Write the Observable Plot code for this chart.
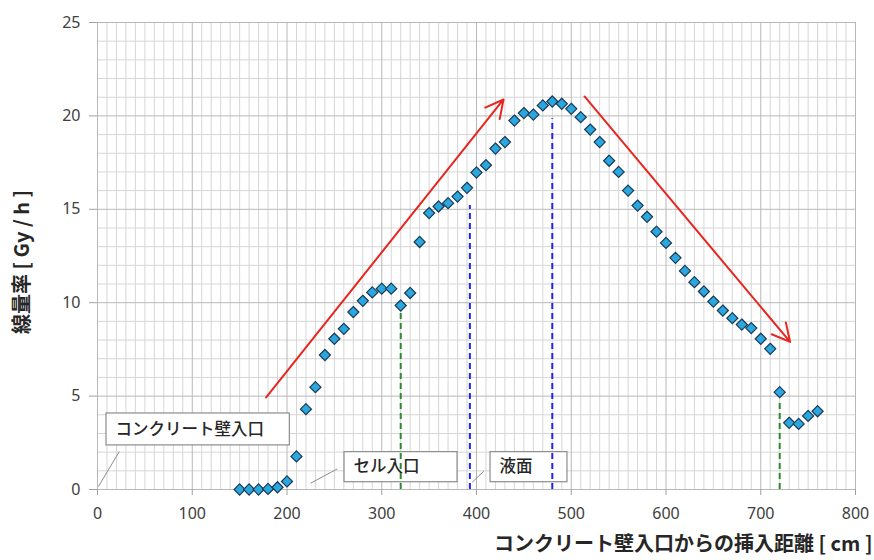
<!DOCTYPE html>
<html><head><meta charset="utf-8">
<script src="https://cdn.jsdelivr.net/npm/d3@7"></script>
<script src="https://cdn.jsdelivr.net/npm/@observablehq/plot@0.6"></script>
<style>body{margin:0;background:#fff}</style>
</head><body><div id="chart"></div>
<script>
// ---- data ----
const distance = [150,160,170,180,190,200,210,220,230,240,250,260,270,280,290,300,310,320,330,340,350,360,370,380,390,400,410,420,430,440,450,460,470,480,490,500,510,520,530,540,550,560,570,580,590,600,610,620,630,640,650,660,670,680,690,700,710,720,730,740,750,760];
const doseRate = [0,0,0,0.03,0.12,0.43,1.77,4.3,5.48,7.2,8.07,8.6,9.5,10.1,10.55,10.75,10.75,9.85,10.52,13.25,14.8,15.15,15.33,15.68,16.15,16.97,17.36,18.25,18.6,19.75,20.15,20.07,20.56,20.77,20.65,20.38,19.93,19.27,18.6,17.6,17.0,16.0,15.2,14.6,13.8,13.2,12.4,11.7,11.1,10.6,10.06,9.58,9.17,8.83,8.64,8.07,7.53,5.21,3.57,3.51,3.94,4.19];
const xTicks = [0,100,200,300,400,500,600,700,800];
const yTicks = [0,5,10,15,20,25];
const xTitle = "コンクリート壁入口からの挿入距離 [ cm ]";
const yTitle = "線量率 [ Gy / h ]";

// annotations (data units)
const markerX = [320, 393, 480, 720];
const markerTop = [9.5, 15.2, 19.85, 4.7];
const markerKind = ["green", "blue", "blue", "green"];
const arrowFrom = [[178, 4.93], [514, 21.04]];
const arrowTo = [[428.5, 20.88], [731, 7.9]];
const calloutLabel = ["コンクリート壁入口", "セル入口", "液面"];
const calloutBoxX = [[9.5, 203], [260.7, 380], [414.8, 496]];
const calloutBoxY = [[2.36, 4.07], [0.39, 2.0], [0.39, 2.0]];
const leaderFrom = [[1, 0.16], [225, 0.34], [395.5, 0.39]];
const leaderTo = [[23, 2.03], [253, 1.1], [407.7, 0.98]];

// ---- tables built from the arrays ----
const points = distance.map((d, i) => ({x: d, y: doseRate[i]}));
const markers = markerX.map((x, i) => ({x, top: markerTop[i], kind: markerKind[i]}));
const arrows = arrowFrom.map((f, i) => ({x1: f[0], y1: f[1], x2: arrowTo[i][0], y2: arrowTo[i][1]}));
const callouts = calloutLabel.map((t, i) => ({
  t, x1: calloutBoxX[i][0], x2: calloutBoxX[i][1], y1: calloutBoxY[i][0], y2: calloutBoxY[i][1],
  ym: (calloutBoxY[i][0] + calloutBoxY[i][1]) / 2,
  lx1: leaderFrom[i][0], ly1: leaderFrom[i][1], lx2: leaderTo[i][0], ly2: leaderTo[i][1]
}));
const minorX = d3.range(0, 801, 10).filter(v => v % 100 !== 0);
const minorY = d3.range(0, 26, 1).filter(v => v % 5 !== 0);

const cjk = "'Noto Sans CJK JP', 'Noto Sans', sans-serif";

const chart = Plot.plot({
  width: 874,
  height: 560,
  marginLeft: 97,
  marginRight: 19,
  marginTop: 22,
  marginBottom: 71,
  style: {fontFamily: "'Noto Sans', " + cjk, fontSize: "16px", color: "#404040", background: "#fff", overflow: "visible"},
  x: {domain: [0, 800], label: null},
  y: {domain: [0, 25], label: null},
  marks: [
    Plot.ruleX(minorX, {stroke: "#d6d6d6", strokeWidth: 1}),
    Plot.ruleY(minorY, {stroke: "#d6d6d6", strokeWidth: 1}),
    Plot.ruleX(xTicks, {stroke: "#b8b8b8", strokeWidth: 1}),
    Plot.ruleY(yTicks, {stroke: "#b8b8b8", strokeWidth: 1}),
    Plot.axisX({ticks: xTicks, tickSize: 6, tickPadding: 12, stroke: "#a0a0a0", fill: "#404040", label: null, tickFormat: d => d}),
    Plot.axisY({ticks: yTicks, tickSize: 8, tickPadding: 9, stroke: "#a0a0a0", fill: "#404040", label: null, tickFormat: d => d}),
    // leader lines
    Plot.link(callouts, {x1: "lx1", y1: "ly1", x2: "lx2", y2: "ly2", stroke: "#8c8c8c", strokeWidth: 1}),
    // callout boxes
    Plot.rect(callouts, {x1: "x1", x2: "x2", y1: "y1", y2: "y2", fill: "#fff", stroke: "#8c8c8c", strokeWidth: 1.2}),
    Plot.text(callouts, {x: "x1", y: "ym", text: "t", textAnchor: "start", dx: 9, fontSize: 16.5, fontWeight: 500, fill: "#262626", fontFamily: cjk}),
    // dashed markers
    Plot.ruleX(markers, {x: "x", y1: 0, y2: "top", stroke: d => d.kind === "green" ? "#2b8a2b" : "#2323e6", strokeWidth: 2, strokeDasharray: "6,4"}),
    // trend arrows
    Plot.arrow(arrows, {x1: "x1", y1: "y1", x2: "x2", y2: "y2", stroke: "#e8261f", strokeWidth: 2, headLength: 15, headAngle: 55}),
    // data
    Plot.dot(points, {x: "x", y: "y", symbol: "diamond2", r: 5, fill: "#2aa7df", stroke: "#1b3a55", strokeWidth: 1.2}),
    // axis titles
    Plot.text([xTitle], {frameAnchor: "bottom-right", dx: 17, dy: 61, textAnchor: "end", fontSize: 20, fontWeight: "bold", fill: "#262626", fontFamily: cjk}),
    Plot.text([yTitle], {frameAnchor: "left", dx: -75, dy: 6, textAnchor: "middle", rotate: -90, fontSize: 20, fontWeight: "bold", fill: "#262626", fontFamily: cjk})
  ]
});
document.getElementById("chart").appendChild(chart);
</script>
</body></html>
